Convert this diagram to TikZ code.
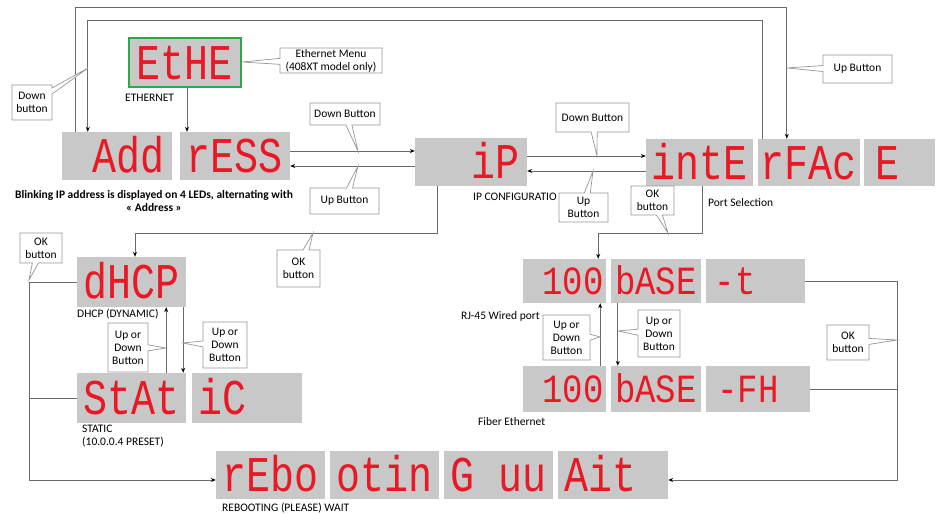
\documentclass[tikz,border=0pt]{standalone}
\usepackage{fontspec}
\setmainfont{Carlito}
\newfontfamily\ledfont[FakeStretch=0.8]{Liberation Mono}
\newfontfamily\ledsmallfont[FakeStretch=0.85]{Liberation Mono}
\usetikzlibrary{arrows.meta,shapes.callouts}
\definecolor{ledgray}{RGB}{200,200,200}
\definecolor{ledred}{RGB}{232,24,36}
\definecolor{linegray}{RGB}{105,105,105}
\definecolor{boxgreen}{RGB}{40,170,70}
\definecolor{cogray}{RGB}{150,150,150}
\newcommand{\blk}{\phantom{0}}
\begin{document}
\begin{tikzpicture}[x=1pt,y=-1pt,
  led/.style={fill=ledgray, inner sep=0pt, text=ledred,
    font=\ledfont\fontsize{50}{50}\selectfont, text height=33pt, text depth=0pt},
  ledsmall/.style={led, font=\ledsmallfont\fontsize{40}{40}\selectfont, text height=27pt},
  conn/.style={draw=linegray, line width=0.8pt},
  arr/.style={conn, -{Stealth[length=5pt,width=4pt,color=black]}},
  lbl/.style={font=\fontsize{11.5}{13}\selectfont, inner sep=0pt, align=left},
  co/.style={rectangle callout, draw=cogray, fill=white, line width=0.7pt,
    font=\fontsize{11.5}{13}\selectfont, align=center, inner sep=1pt,
    callout pointer width=6pt},
]
\useasboundingbox (0,0) rectangle (943,514);

% ---------- LED boxes ----------
\node[led, draw=boxgreen, line width=2.5pt, minimum width=112pt, minimum height=49pt] (ethe) at (185,62.5) {EtHE};
\node[led, minimum width=110pt, minimum height=48pt] (add)  at (117,156) {\blk Add};
\node[led, minimum width=110pt, minimum height=48pt] (ress) at (235,156) {rESS};
\node[led, minimum width=112pt, minimum height=48pt] (ip)   at (471,162) {\blk\blk iP};
\node[led, minimum width=107pt, minimum height=47pt] (inte) at (699.5,162.5) {intE};
\node[led, minimum width=102pt, minimum height=47pt] (rfac) at (809,162.5) {rFAc};
\node[led, minimum width=71pt,  minimum height=47pt] (ebox) at (899.5,162.5) {E\blk};

\node[led, minimum width=109pt, minimum height=50pt] (dhcp) at (131.5,282) {dHCP};
\node[led, minimum width=109pt, minimum height=50pt] (stat) at (131.5,398) {StAt};
\node[led, minimum width=110pt, minimum height=50pt] (ic)   at (247,398) {iC\blk\blk};

\node[ledsmall, minimum width=83pt,  minimum height=44pt] (h100a) at (564.5,281) {\makebox[78pt][r]{100}};
\node[ledsmall, minimum width=90pt,  minimum height=44pt] (bta)   at (656,281) {bASE};
\node[ledsmall, minimum width=99pt,  minimum height=44pt] (ta)    at (755.5,281) {-t\blk\blk};
\node[ledsmall, minimum width=83pt,  minimum height=46pt] (h100b) at (564.5,389) {\makebox[78pt][r]{100}};
\node[ledsmall, minimum width=90pt,  minimum height=46pt] (btb)   at (656,389) {bASE};
\node[ledsmall, minimum width=104pt, minimum height=46pt] (fh)    at (758,389) {-FH\blk};

\node[led, minimum width=109pt, minimum height=48pt] (reb1) at (270.5,475) {rEbo};
\node[led, minimum width=109pt, minimum height=48pt] (reb2) at (384.5,475) {otin};
\node[led, minimum width=109pt, minimum height=48pt] (reb3) at (498.5,475) {G\blk uu};
\node[led, minimum width=110pt, minimum height=48pt] (reb4) at (613,475) {Ait\blk};

% ---------- labels ----------
\node[lbl, anchor=west] (lEth) at (125,98) {ETHERNET};
\node[lbl, align=center, font=\bfseries\fontsize{11.5}{13}\selectfont] (lBlink) at (154,201)
  {Blinking IP address is displayed on 4 LEDs, alternating with\\« Address »};
\node[lbl, anchor=west] (lIP) at (473,197) {IP CONFIGURATIO};
\node[lbl, anchor=west] (lPort) at (708,203) {Port Selection};
\node[lbl, anchor=west] (lDhcp) at (77,314) {DHCP (DYNAMIC)};
\node[lbl, anchor=north west] (lStat) at (82,425) {STATIC\\(10.0.0.4 PRESET)};
\node[lbl, anchor=east] (lRJ) at (540,316) {RJ-45 Wired port};
\node[lbl, anchor=west] (lFib) at (478,422) {Fiber Ethernet};
\node[lbl, anchor=west] (lReb) at (222,508) {REBOOTING (PLEASE) WAIT};

% ---------- connectors ----------
\coordinate (yTopOut) at (0,7);
\coordinate (yTopIn) at (0,20);
\coordinate (aOut) at ([xshift=14pt]add.north west);
\coordinate (aIn)  at ([xshift=26pt]add.north west);
\coordinate (rOut) at ([xshift=29pt]rfac.north west);
\coordinate (rIn)  at ([xshift=5pt]rfac.north west);
\draw[arr] (aOut) -- (aOut |- yTopOut) -- (rOut |- yTopOut) -- (rOut);
\draw[arr] (rIn) -- (rIn |- yTopIn) -- (aIn |- yTopIn) -- (aIn);

\coordinate (eS) at ([xshift=2pt]ethe.south);
\draw[arr] (eS) -- (eS |- ress.north);

\coordinate (r1) at ([yshift=5pt]ress.east);
\coordinate (r2) at ([yshift=-10pt]ress.east);
\draw[arr] (r1) -- (r1 -| ip.west);
\draw[arr] (r2 -| ip.west) -- (r2);

\coordinate (i1) at ([yshift=6pt]ip.east);
\coordinate (i2) at ([yshift=-9pt]ip.east);
\draw[arr] (i1) -- (i1 -| inte.west);
\draw[arr] (i2 -| inte.west) -- (i2);

\coordinate (yOK) at (0,233);
\coordinate (ipd) at ([xshift=23pt]ip.south west);
\coordinate (dh)  at ([xshift=3.5pt]dhcp.north);
\draw[arr] (ipd) -- (ipd |- yOK) -- (dh |- yOK) -- (dh);

\coordinate (ind) at ([xshift=2.5pt]inte.south);
\coordinate (ha)  at ([xshift=-8pt]h100a.north east);
\draw[arr] (ind) -- (ind |- yOK) -- (ha |- yOK) -- (ha);

\coordinate (xL) at (29,0);
\coordinate (yR1) at ([yshift=-5pt]reb1.west);
\draw[arr] (dhcp.west) -- (dhcp.west -| xL) -- (yR1 -| xL) -- (yR1);
\draw[conn] (stat.west) -- (stat.west -| xL);

\coordinate (su) at ([xshift=-20pt]stat.north east);
\draw[arr] (su) -- (su |- dhcp.south);
\coordinate (sd) at ([xshift=-3pt]dhcp.south east);
\draw[arr] (sd) -- (sd |- stat.north);

\coordinate (hu) at ([xshift=-6pt]h100b.north east);
\draw[arr] (hu) -- (hu |- h100a.south);
\coordinate (bd) at ([xshift=7pt]bta.south west);
\draw[arr] (bd) -- (bd |- btb.north);

\coordinate (xR) at (897,0);
\coordinate (yR4) at ([yshift=-5pt]reb4.east);
\draw[arr] (ta.east) -- (ta.east -| xR) -- (yR4 -| xR) -- (yR4);
\draw[conn] (fh.east) -- (fh.east -| xR);

% ---------- callouts ----------
\coordinate (pDownL) at (88,68);
\coordinate (pEth) at (242,62);
\coordinate (pDown1) at (358,151);
\coordinate (pUp1) at (358,166);
\coordinate (pDown2) at (597,156);
\coordinate (pUp2) at (593,171);
\coordinate (pOK2) at (668,233);
\coordinate (pUpTR) at (787,68);
\coordinate (pOK1) at (313,233);
\coordinate (pOKL) at (29,280);
\coordinate (pUD1) at (166,348);
\coordinate (pUD2) at (183,343);
\coordinate (pUD3) at (600,337);
\coordinate (pUD4) at (618,331);
\coordinate (pOKR) at (897,340);

\node[co, minimum width=40pt, minimum height=35pt, callout absolute pointer={(pDownL)}] (cDownL) at (32,102.5) {Down\\button};
\node[co, minimum width=102pt, minimum height=25pt, callout absolute pointer={(pEth)}] (cEth) at (331,60.5) {Ethernet Menu\\(408XT model only)};
\node[co, minimum width=70pt, minimum height=22pt, callout absolute pointer={(pDown1)}] (cDown1) at (345,114) {Down Button};
\node[co, minimum width=69pt, minimum height=26pt, callout absolute pointer={(pUp1)}] (cUp1) at (344.5,201) {Up Button};
\node[co, minimum width=73pt, minimum height=29pt, callout absolute pointer={(pDown2)}] (cDown2) at (592.5,117.5) {Down Button};
\node[co, minimum width=49pt, minimum height=29pt, callout absolute pointer={(pUp2)}] (cUp2) at (583.5,207.5) {Up\\Button};
\node[co, minimum width=43pt, minimum height=29pt, callout absolute pointer={(pOK2)}] (cOK2) at (652.5,200.5) {OK\\button};
\node[co, minimum width=69pt, minimum height=28pt, callout absolute pointer={(pUpTR)}] (cUpTR) at (857.5,69) {Up Button};
\node[co, minimum width=43pt, minimum height=37pt, callout absolute pointer={(pOK1)}] (cOK1) at (298.5,268.5) {OK\\button};
\node[co, minimum width=42pt, minimum height=30pt, callout absolute pointer={(pOKL)}] (cOKL) at (41,248) {OK\\button};
\node[co, minimum width=40pt, minimum height=49pt, callout absolute pointer={(pUD1)}] (cUD1) at (128,347.5) {Up or\\Down\\Button};
\node[co, minimum width=44pt, minimum height=46pt, callout absolute pointer={(pUD2)}] (cUD2) at (225,345) {Up or\\Down\\Button};
\node[co, minimum width=47pt, minimum height=45pt, callout absolute pointer={(pUD3)}] (cUD3) at (566.5,337.5) {Up or\\Down\\Button};
\node[co, minimum width=42pt, minimum height=47pt, callout absolute pointer={(pUD4)}] (cUD4) at (659,333.5) {Up or\\Down\\Button};
\node[co, minimum width=42pt, minimum height=35pt, callout absolute pointer={(pOKR)}] (cOKR) at (848,342.5) {OK\\button};
\end{tikzpicture}
\end{document}
